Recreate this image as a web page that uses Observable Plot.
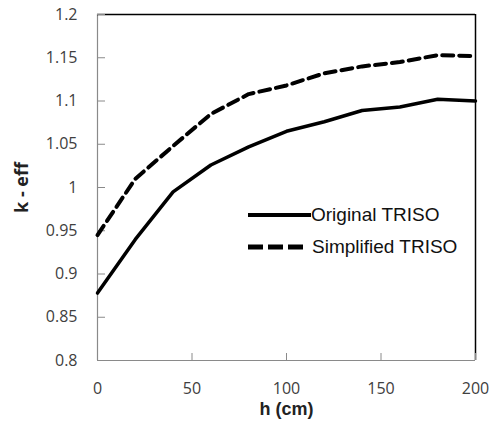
<!DOCTYPE html>
<html>
<head>
<meta charset="utf-8">
<script src="https://cdn.jsdelivr.net/npm/d3@7"></script>
<script src="https://cdn.jsdelivr.net/npm/@observablehq/plot@0.6"></script>
<style>
  body { margin: 0; background: #fff; }
  #wrap { position: relative; width: 494px; height: 431px; }
  #legend { position: absolute; left: 248px; top: 199px; font-family: "Liberation Sans", Arial, sans-serif; font-size: 19px; color: #111; }
  #legend .row { display: flex; align-items: center; height: 32px; white-space: nowrap; }
  #legend svg { display: block; flex: none; }
</style>
</head>
<body>
<div id="wrap"><div id="legend"></div></div>
<script>
const heights = [0, 20, 40, 60, 80, 100, 120, 140, 160, 180, 200];
const originalTRISO = [0.878, 0.940, 0.995, 1.026, 1.047, 1.065, 1.076, 1.089, 1.093, 1.102, 1.100];
const simplifiedTRISO = [0.945, 1.010, 1.048, 1.085, 1.108, 1.118, 1.132, 1.140, 1.145, 1.153, 1.152];
const yTicks = [0.8, 0.85, 0.9, 0.95, 1, 1.05, 1.1, 1.15, 1.2];
const xTicks = [0, 50, 100, 150, 200];
const seriesNames = ["Original TRISO", "Simplified TRISO"];

const orig = heights.map((h, i) => ({h, k: originalTRISO[i]}));
const simp = heights.map((h, i) => ({h, k: simplifiedTRISO[i]}));

const font = "'Open Sans', 'Liberation Sans', sans-serif";
const chart = Plot.plot({
  width: 494,
  height: 431,
  marginLeft: 97,
  marginRight: 19,
  marginTop: 14,
  marginBottom: 71,
  style: {fontFamily: font, fontSize: "16px", color: "#404040", background: "#fff"},
  x: {domain: [0, 200]},
  y: {domain: [0.8, 1.2]},
  marks: [
    Plot.ruleX([0], {stroke: "#8a8a8a", strokeWidth: 1.2}),
    Plot.ruleY([0.8], {stroke: "#8a8a8a", strokeWidth: 1.2}),
    Plot.ruleX([200], {stroke: "#000", strokeWidth: 1.5}),
    Plot.ruleY([1.2], {stroke: "#000", strokeWidth: 1.5}),
    Plot.axisY(yTicks, {tickSize: -8, stroke: "#8a8a8a", text: null, label: null}),
    Plot.axisY(yTicks, {tickSize: 0, tickPadding: 20, fontSize: 16, fill: "#404040", label: null, tickFormat: d => String(d)}),
    Plot.axisX(xTicks, {tickSize: -7, stroke: "#8a8a8a", text: null, label: null}),
    Plot.axisX(xTicks, {tickSize: 0, tickPadding: 22, fontSize: 16, fill: "#404040", label: null, tickFormat: d => String(d)}),
    Plot.text(["k - eff"], {frameAnchor: "left", dx: -75, rotate: -90, textAnchor: "middle", fontWeight: "bold", fontSize: 18, fill: "#222"}),
    Plot.text(["h (cm)"], {frameAnchor: "bottom", dy: 54, fontWeight: "bold", fontSize: 18, fontFamily: "'Liberation Sans', Arial, sans-serif", fill: "#222"}),
    Plot.line(simp, {x: "h", y: "k", stroke: "#000", strokeWidth: 4, strokeDasharray: "11,6"}),
    Plot.line(orig, {x: "h", y: "k", stroke: "#000", strokeWidth: 3.5})
  ]
});
const wrap = document.getElementById("wrap");
wrap.insertBefore(chart, wrap.firstChild);

const legend = document.getElementById("legend");
seriesNames.forEach((name, i) => {
  const row = document.createElement("div");
  row.className = "row";
  const dash = i === 0 ? "" : 'stroke-dasharray="15,5"';
  row.innerHTML = `<svg width="${i === 0 ? 63 : 64}" height="10"><line x1="0" y1="5" x2="${i === 0 ? 63 : 57}" y2="5" stroke="#000" stroke-width="${i === 0 ? 4 : 5}" ${dash}/></svg><span>${name}</span>`;
  legend.appendChild(row);
});
</script>
</body>
</html>
